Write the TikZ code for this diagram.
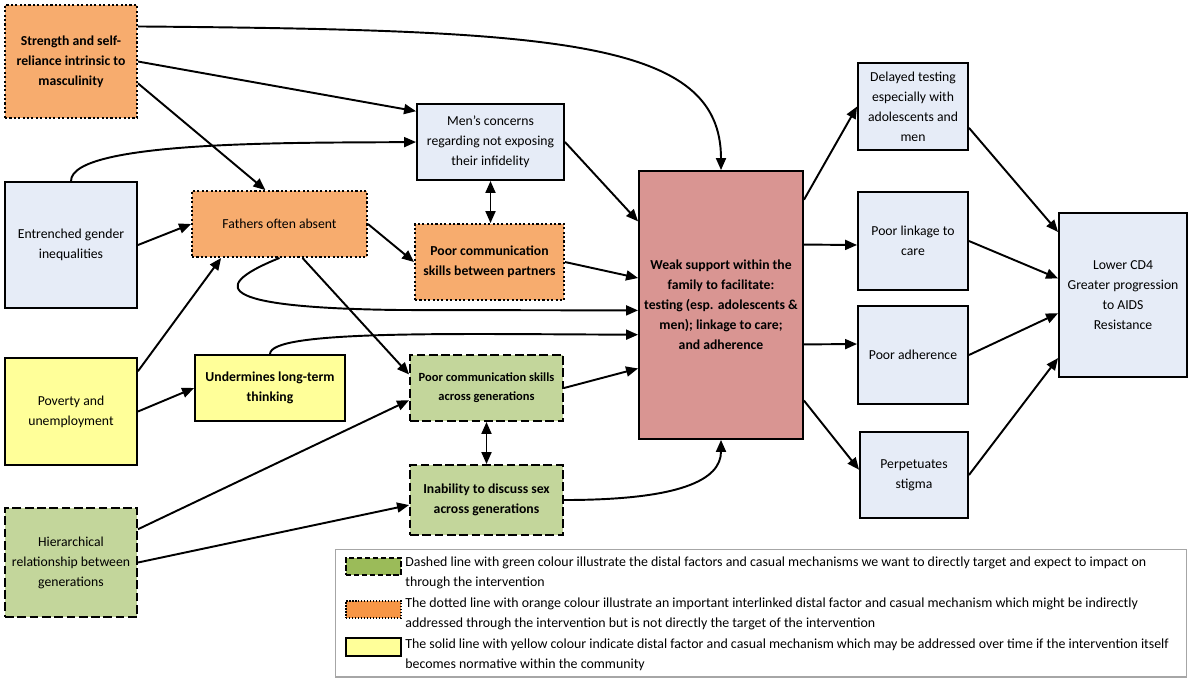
\documentclass[tikz,border=0pt]{standalone}
\usepackage{fontspec}
\setmainfont{Carlito}
\usepackage{tikz}
\usetikzlibrary{calc, arrows.meta}

\definecolor{boxblue}{HTML}{E6ECF7}
\definecolor{boxorange}{HTML}{F7AC6E}
\definecolor{boxrose}{HTML}{D99592}
\definecolor{boxyellow}{HTML}{FFFF99}
\definecolor{boxgreen}{HTML}{C3D69B}
\definecolor{keygreen}{HTML}{9BBB59}
\definecolor{keyorange}{HTML}{F79646}
\definecolor{keygray}{HTML}{A6A6A6}

\begin{document}
\begin{tikzpicture}[x=0.02cm, y=-0.02cm,
    box/.style={draw, line width=1.1pt, align=center, inner sep=1pt,
        font=\fontsize{7.8}{11.4}\selectfont},
    plainbox/.style={box, fill=boxblue},
    dotbox/.style={box, fill=boxorange, dash pattern=on 1.2pt off 1.3pt},
    dashbox/.style={box, fill=boxgreen, dash pattern=on 5pt off 2pt},
    solidbox/.style={box, fill=boxyellow},
    corebox/.style={box, fill=boxrose},
    keytext/.style={align=left, inner sep=0pt, anchor=west,
        font=\fontsize{7.9}{11.4}\selectfont},
    arr/.style={line width=1.1pt, -{Triangle[length=2.4mm, width=2mm]}},
    both/.style={line width=1.1pt, {Triangle[length=2.4mm, width=2mm]}-{Triangle[length=2.4mm, width=2mm]}}]

        \useasboundingbox (0,0) rectangle (1192,681);

        \node[dotbox, font=\bfseries\fontsize{7.8}{11.4}\selectfont, minimum width=2.64cm, minimum height=2.26cm] (strength) at (71,61.5) {Strength and self-\\reliance intrinsic to\\masculinity};
        \node[plainbox, minimum width=2.64cm, minimum height=2.52cm] (entrenched) at (71,245) {Entrenched gender\\inequalities};
        \node[solidbox, minimum width=2.64cm, minimum height=2.14cm] (poverty) at (71,411.5) {Poverty and\\unemployment};
        \node[dashbox, minimum width=2.64cm, minimum height=2.18cm] (hier) at (71,562.5) {Hierarchical\\relationship between\\generations};

        \node[dotbox, minimum width=3.50cm, minimum height=1.32cm] (fathers) at (279.5,224) {Fathers often absent};
        \node[solidbox, font=\bfseries\fontsize{7.8}{11.4}\selectfont, minimum width=3.00cm, minimum height=1.32cm] (undermines) at (270,388) {Undermines long-term\\thinking};

        \node[plainbox, minimum width=2.94cm, minimum height=1.52cm] (men) at (490.5,142) {Men's concerns\\regarding not exposing\\their infidelity};
        \node[dotbox, font=\bfseries\fontsize{7.8}{11.4}\selectfont, minimum width=2.98cm, minimum height=1.52cm] (partners) at (489.5,262) {Poor communication\\skills between partners};
        \node[dashbox, font=\bfseries\fontsize{7.1}{10.8}\selectfont, minimum width=3.06cm, minimum height=1.32cm] (gen) at (486.5,388) {Poor communication skills\\across generations};
        \node[dashbox, font=\bfseries\fontsize{7.8}{11.4}\selectfont, minimum width=3.06cm, minimum height=1.40cm] (inability) at (486.5,500) {Inability to discuss sex\\across generations};

        \node[corebox, font=\bfseries\fontsize{7.8}{11.4}\selectfont, minimum width=3.28cm, minimum height=5.36cm] (weak) at (721,305) {Weak support within the\\family to facilitate:\\testing (esp. adolescents \&\\men); linkage to care;\\and adherence};

        \node[plainbox, minimum width=2.20cm, minimum height=1.74cm] (delayed) at (913,106.5) {Delayed testing\\especially with\\adolescents and\\men};
        \node[plainbox, minimum width=2.20cm, minimum height=1.96cm] (linkage) at (913,241) {Poor linkage to\\care};
        \node[plainbox, minimum width=2.20cm, minimum height=1.96cm] (adherence) at (913,355) {Poor adherence};
        \node[plainbox, minimum width=2.16cm, minimum height=1.72cm] (perp) at (914,475) {Perpetuates\\stigma};
        \node[plainbox, minimum width=2.56cm, minimum height=3.28cm] (cd4) at (1123,295) {Lower CD4\\Greater progression\\to AIDS\\Resistance};

        \draw[arr] ($(strength.north east)!0.195!(strength.south east)$) .. controls (560,30) and (721,40) .. (weak.north);
        \draw[arr] (strength.east) -- ($(men.north west)!0.105!(men.south west)$);
        \draw[arr] ($(strength.north east)!0.69!(strength.south east)$) -- ($(fathers.north west)!0.42!(fathers.north east)$);
        \draw[arr] (entrenched.north) .. controls (71,140) and (300,143) .. (men.west);
        \draw[arr] (entrenched.east) -- (fathers.west);
        \draw[arr] ($(poverty.north east)!0.13!(poverty.south east)$) -- ($(fathers.south west)!0.17!(fathers.south east)$);
        \draw[arr] (poverty.east) -- (undermines.west);
        \draw[arr] (undermines.north) .. controls (270,330) and (450,334) .. ($(weak.north west)!0.61!(weak.south west)$);
        \draw[arr] (fathers.east) -- (partners.west);
        \draw[arr] (fathers.south) .. controls (200,290) and (230,308) .. (400,310) -- ($(weak.north west)!0.52!(weak.south west)$);
        \draw[arr] ($(fathers.south west)!0.63!(fathers.south east)$) -- ($(gen.north west)!0.30!(gen.south west)$);
        \draw[arr] ($(hier.north east)!0.20!(hier.south east)$) -- ($(gen.north west)!0.68!(gen.south west)$);
        \draw[arr] (hier.east) -- ($(inability.north west)!0.57!(inability.south west)$);

        \draw[arr] (men.east) -- ($(weak.north west)!0.19!(weak.south west)$);
        \draw[both] (men.south) -- (men.south |- partners.north);
        \draw[arr] (partners.east) -- ($(weak.north west)!0.40!(weak.south west)$);
        \draw[arr] (gen.east) -- ($(weak.north west)!0.735!(weak.south west)$);
        \draw[both] (gen.south) -- (inability.north);
        \draw[arr] (inability.east) .. controls (680,500) and (721,480) .. (weak.south);

        \draw[arr] ($(weak.north east)!0.11!(weak.south east)$) -- (delayed.west);
        \draw[arr] ($(weak.north east)!0.276!(weak.south east)$) -- ($(linkage.north west)!0.54!(linkage.south west)$);
        \draw[arr] ($(weak.north east)!0.646!(weak.south east)$) -- ($(adherence.north west)!0.39!(adherence.south west)$);
        \draw[arr] ($(weak.north east)!0.854!(weak.south east)$) -- ($(perp.north west)!0.44!(perp.south west)$);

        \draw[arr] ($(delayed.north east)!0.74!(delayed.south east)$) -- ($(cd4.north west)!0.12!(cd4.south west)$);
        \draw[arr] (linkage.east) -- ($(cd4.north west)!0.40!(cd4.south west)$);
        \draw[arr] (adherence.east) -- ($(cd4.north west)!0.61!(cd4.south west)$);
        \draw[arr] (perp.east) -- ($(cd4.north west)!0.88!(cd4.south west)$);

        \node[draw=keygray, line width=0.6pt, minimum width=17.04cm, minimum height=2.56cm] (legend) at (761,613) {};
        \node[draw, line width=0.8pt, dash pattern=on 3pt off 1.5pt, fill=keygreen, minimum width=1.1cm, minimum height=0.34cm] (keydash) at (373.5,566.5) {};
        \node[draw, line width=0.8pt, dash pattern=on 0.8pt off 0.9pt, fill=keyorange, minimum width=1.1cm, minimum height=0.34cm] (keydot) at (373.5,609.5) {};
        \node[draw, line width=0.8pt, fill=boxyellow, minimum width=1.1cm, minimum height=0.36cm] (keysolid) at (373.5,647) {};
        \node[keytext] (textdash) at (405,573) {Dashed line with green colour illustrate the distal factors and casual mechanisms we want to directly target and expect to impact on\\through the intervention};
        \node[keytext] (textdot) at (405,614) {The dotted line with orange colour illustrate an important interlinked distal factor and casual mechanism which might be indirectly\\addressed through the intervention but is not directly the target of the intervention};
        \node[keytext] (textsolid) at (405,654.5) {The solid line with yellow colour indicate distal factor and casual mechanism which may be addressed over time if the intervention itself\\becomes normative within the community};
    \end{tikzpicture}
\end{document}
